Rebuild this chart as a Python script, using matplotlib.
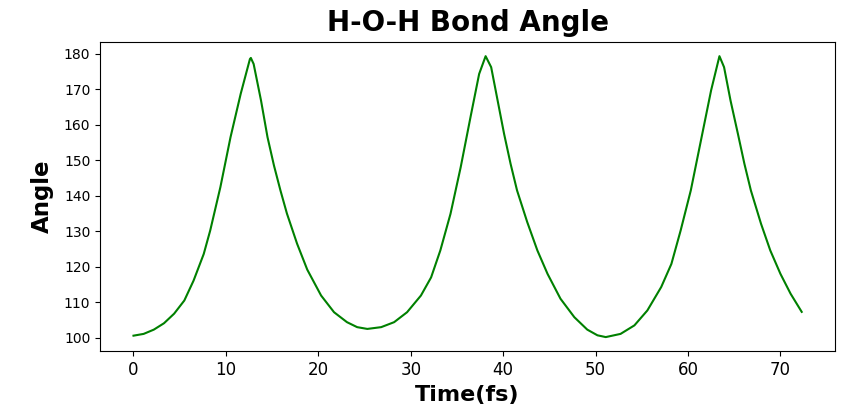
"""H-O-H bond angle over a short MD trajectory."""

import matplotlib

matplotlib.use("Agg")
import matplotlib.pyplot as plt

# values (time in fs, angle in degrees)
time_fs = [
    0.0, 1.1, 2.2, 3.3, 4.4, 5.5, 6.5, 7.6, 8.3, 9.4, 10.5, 11.6, 12.6, 12.7,
    13.0, 13.8, 14.5, 15.2, 15.9, 16.6, 17.7, 18.8, 20.3, 21.7, 23.1, 24.2,
    25.3, 26.8, 28.2, 29.6, 31.1, 32.2, 33.2, 34.3, 35.4, 36.5, 37.4, 38.1,
    38.7, 39.4, 40.1, 40.8, 41.5, 42.6, 43.7, 44.8, 46.2, 47.7, 49.1, 50.2,
    51.1, 52.7, 54.2, 55.6, 57.1, 58.2, 59.2, 60.3, 61.4, 62.5, 63.4, 63.9,
    64.6, 65.4, 66.1, 66.8, 67.9, 68.9, 70.0, 71.1, 72.3,
]
angle_deg = [
    100.6, 101.1, 102.3, 104.1, 106.8, 110.5, 116.1, 123.6, 130.2, 142.4, 156.5, 168.7, 178.5, 178.8,
    177.1, 166.8, 156.5, 148.5, 141.5, 135.0, 126.5, 119.2, 111.9, 107.2, 104.4, 103.0,
    102.5, 103.0, 104.4, 107.2, 111.9, 117.0, 124.6, 134.9, 148.0, 162.6, 174.3, 179.3,
    176.2, 166.8, 157.4, 149.0, 141.5, 132.6, 124.6, 118.0, 111.0, 105.8, 102.3, 100.7,
    100.2, 101.1, 103.5, 107.7, 114.3, 120.8, 130.2, 141.5, 155.6, 169.7, 179.3, 176.2,
    166.8, 157.4, 149.0, 141.5, 132.1, 124.6, 118.0, 112.4, 107.3,
]

fig = plt.figure(figsize=(8.41, 4.05), dpi=100)
ax = fig.add_axes([0.119, 0.133, 0.874, 0.763])
ax.plot(time_fs, angle_deg, color="green", linewidth=1.5)

ax.set_title("H-O-H Bond Angle", fontsize=20, fontweight="bold", pad=8)
ax.set_xlabel("Time(fs)", fontsize=16, fontweight="bold", labelpad=4.5)
ax.set_ylabel("Angle", fontsize=16.5, fontweight="bold", labelpad=7)
ax.tick_params(axis="x", labelsize=12)
ax.tick_params(axis="y", labelsize=10)

fig.savefig("out.png", dpi=100)
plt.close(fig)
